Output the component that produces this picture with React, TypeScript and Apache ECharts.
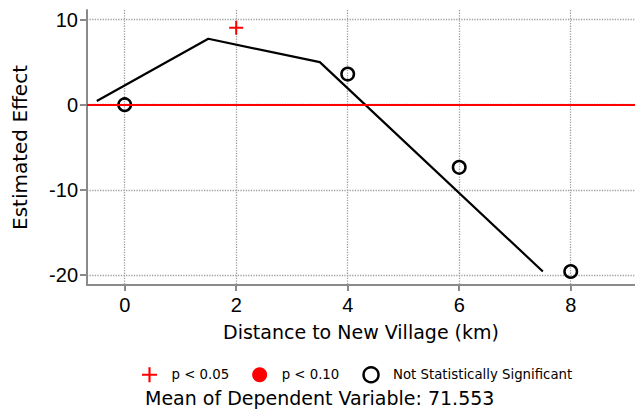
import React, { useEffect, useRef } from "react";
import * as echarts from "echarts";

// ---- data ----
const xTicks = [0, 2, 4, 6, 8];
const yTicks = [-20, -10, 0, 10];
const fitX = [-0.5, 1.5, 3.5, 7.5];
const fitY = [0.43, 7.75, 5.0, -19.6];
const sig05X = [2];
const sig05Y = [9.04];
const sig10X: number[] = [];
const sig10Y: number[] = [];
const nsX = [0, 4, 6, 8];
const nsY = [0, 3.6, -7.36, -19.6];
const legendNames = ["p < 0.05", "p < 0.10", "Not Statistically Significant"];
const xTitle = "Distance to New Village (km)";
const yTitle = "Estimated Effect";
const meanText = "Mean of Dependent Variable: 71.553";

const PLUS = "path://M6,0H8V6H14V8H8V14H6V8H0V6H6Z";
const zip = (xs: number[], ys: number[]) => xs.map((x, i) => [x, ys[i]]);

export default function App() {
  const ref = useRef<HTMLDivElement>(null);
  useEffect(() => {
    const chart = echarts.init(ref.current!, null, { renderer: "svg" });
    const axisGray = "#8a8a8a";
    chart.setOption({
      animation: false,
      backgroundColor: "#fff",
      grid: { left: 87, right: 0, top: 10, bottom: 125, containLabel: false },
      xAxis: {
        type: "value",
        min: -0.676,
        max: 9.153,
        name: xTitle,
        nameLocation: "middle",
        nameGap: 37,
        nameTextStyle: { fontFamily: "DejaVu Sans", fontSize: 19, color: "#000" },
        axisLine: { show: true, onZero: false, lineStyle: { color: axisGray, width: 2 } },
        axisTick: { show: true, length: 6, customValues: xTicks, lineStyle: { color: axisGray, width: 2 } },
        axisLabel: { customValues: xTicks, margin: 10, fontFamily: "Liberation Sans", fontSize: 20, color: "#000" },
        splitLine: { show: true, lineStyle: { color: "#a0a0a0", type: "dotted", width: 1.3 } },
      },
      yAxis: {
        type: "value",
        min: -21.19,
        max: 11.13,
        name: yTitle,
        nameLocation: "middle",
        nameGap: 57,
        nameTextStyle: { fontFamily: "DejaVu Sans", fontSize: 20, color: "#000" },
        axisLine: { show: true, onZero: false, lineStyle: { color: axisGray, width: 2 } },
        axisTick: { show: true, length: 7, customValues: yTicks, lineStyle: { color: axisGray, width: 2 } },
        axisLabel: { customValues: yTicks, margin: 9, fontFamily: "Liberation Sans", fontSize: 20, color: "#000" },
        splitLine: { show: true, lineStyle: { color: "#a0a0a0", type: "dotted", width: 1.3 } },
      },
      legend: {
        left: 142,
        top: 366,
        itemWidth: 34,
        itemHeight: 15,
        itemGap: 23,
        padding: 0,
        textStyle: { fontFamily: "DejaVu Sans", fontSize: 13.3, color: "#000" },
        data: [
          { name: legendNames[0], icon: PLUS, itemStyle: { color: "#ff0000", opacity: 1 } },
          { name: legendNames[1], icon: "circle", itemStyle: { color: "#ff0000", opacity: 1 } },
          {
            name: legendNames[2],
            icon: "circle",
            itemStyle: { color: "transparent", borderColor: "#000", borderWidth: 2.5, opacity: 1 },
          },
        ],
      },
      graphic: [
        {
          type: "text",
          left: 145,
          top: 388.5,
          style: { text: meanText, fontFamily: "DejaVu Sans", fontSize: 19, fill: "#000" },
        },
      ],
      series: [
        {
          name: legendNames[1],
          type: "scatter",
          z: 2,
          data: zip(sig10X, sig10Y),
          symbol: "circle",
          symbolSize: 14,
          itemStyle: { color: "#ff0000", opacity: 1 },
          markLine: {
            silent: true,
            symbol: "none",
            label: { show: false },
            lineStyle: { color: "#ff0000", width: 2, type: "solid", opacity: 1 },
            data: [{ yAxis: 0 }],
          },
        },
        {
          name: "fit",
          type: "line",
          z: 3,
          data: zip(fitX, fitY),
          showSymbol: false,
          symbol: "none",
          lineStyle: { color: "#000", width: 2.2 },
        },
        {
          name: legendNames[0],
          type: "scatter",
          z: 4,
          data: zip(sig05X, sig05Y),
          symbol: PLUS,
          symbolSize: 14,
          itemStyle: { color: "#ff0000", opacity: 1 },
        },
        {
          name: legendNames[2],
          type: "scatter",
          z: 4,
          data: zip(nsX, nsY),
          symbol: "circle",
          symbolSize: 12.5,
          itemStyle: { color: "transparent", borderColor: "#000", borderWidth: 2.5, opacity: 1 },
        },
      ],
    });
    return () => chart.dispose();
  }, []);
  return (
    <div
      ref={ref}
      style={{ position: "fixed", left: 0, top: 0, width: 635, height: 410, background: "#fff" }}
    />
  );
}
